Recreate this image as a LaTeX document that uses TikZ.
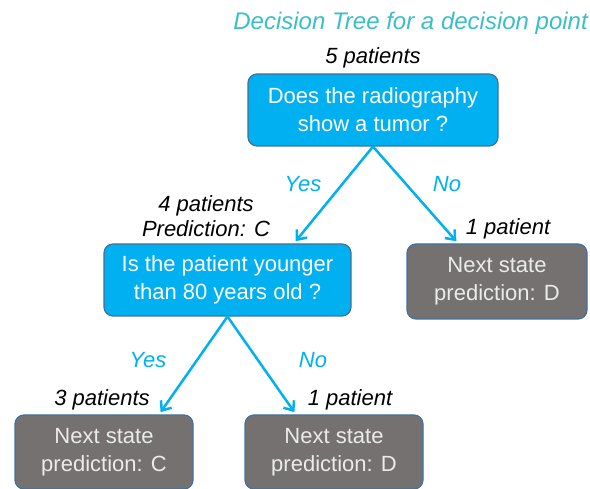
\documentclass[tikz,border=0pt]{standalone}
\usepackage{fontspec}
\setmainfont{Liberation Sans}
\usetikzlibrary{arrows.meta}
\definecolor{qfill}{HTML}{00B0F0}
\definecolor{qedge}{HTML}{41719C}
\definecolor{leaffill}{HTML}{767171}
\definecolor{titlecol}{HTML}{3BBFC6}
\tikzset{question/.style={draw=qedge, line width=1.2pt, fill=qfill, rounded corners=9pt, text=white, align=center, font=\fontsize{22}{28}\selectfont, inner sep=0pt},
         leaf/.style={question, fill=leaffill, text=white!92!black},
         branch/.style={qfill, line width=2.5pt, -{Straight Barb[length=8pt,width=13pt,line width=2.5pt]}, shorten >=1pt},
         count/.style={font=\fontsize{22}{25}\selectfont\itshape, align=center, inner sep=0pt},
         answer/.style={count, text=qfill}}

\begin{document}
\begin{tikzpicture}[x=1pt,y=-1pt]
  \useasboundingbox (0,0) rectangle (590,489);
  \node[font=\fontsize{24}{28}\selectfont\itshape, text=titlecol, anchor=east, inner sep=0pt] (title) at (588,23) {Decision Tree for a decision point};
  % decision boxes
  \node[question, minimum width=250pt, minimum height=72pt] (root) at (373,110) {Does the radiography\\show a tumor ?};
  \node[question, minimum width=247pt, minimum height=72pt] (age) at (227.5,280) {Is the patient younger\\than 80 years old ?};
  % leaves
  \node[leaf, minimum width=180pt, minimum height=75pt] (leafD) at (497,281.5) {Next state\\prediction: D};
  \node[leaf, minimum width=178pt, minimum height=74pt] (leafC2) at (104,452) {Next state\\prediction: C};
  \node[leaf, minimum width=178pt, minimum height=74pt] (leafD2) at (334,452) {Next state\\prediction: D};
  % patient counts
  \node[count] (n5) at (373,58) {5 patients};
  \node[count] (n4) at (206,216) {4 patients\\Prediction: C};
  \node[count] (n1) at (508,229) {1 patient};
  \node[count] (n3) at (102,400) {3 patients};
  \node[count] (n1b) at (350,400) {1 patient};
  % branches
  \coordinate (rootY) at (295,242);
  \coordinate (rootN) at (457,242);
  \coordinate (ageY) at (160,413);
  \coordinate (ageN) at (295,413);
  \draw[branch] (root.south) -- (rootY);
  \draw[branch] (root.south) -- (rootN);
  \draw[branch] (age.south) -- (ageY);
  \draw[branch] (age.south) -- (ageN);
  \node[answer] (yes1) at (303,184) {Yes};
  \node[answer] (no1) at (447,184) {No};
  \node[answer] (yes2) at (148,360) {Yes};
  \node[answer] (no2) at (313,360) {No};
\end{tikzpicture}
\end{document}
